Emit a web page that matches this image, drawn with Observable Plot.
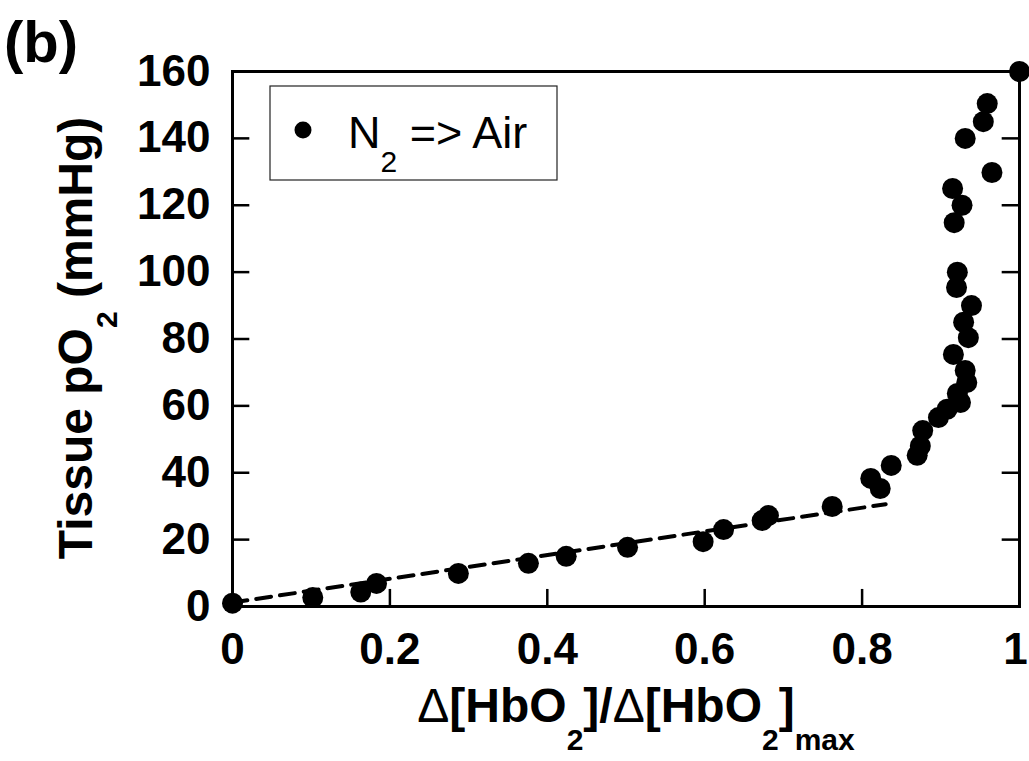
<!DOCTYPE html>
<html>
<head>
<meta charset="utf-8">
<script src="https://cdn.jsdelivr.net/npm/d3@7"></script>
<script src="https://cdn.jsdelivr.net/npm/@observablehq/plot@0.6"></script>
<style>
  html, body { margin: 0; padding: 0; background: white; }
  #chart svg { display: block; }
</style>
</head>
<body>
<div id="chart"></div>
<script>
// Data
const dataX = [0, 0.102, 0.163, 0.183, 0.287, 0.376, 0.424, 0.502, 0.598, 0.624, 0.673, 0.681, 0.762,
  0.811, 0.823, 0.837, 0.870, 0.874, 0.877, 0.897, 0.908, 0.925, 0.921, 0.933, 0.931, 0.916, 0.935,
  0.929, 0.939, 0.920, 0.921, 0.917, 0.927, 0.915, 0.965, 0.931, 0.954, 0.959, 1.0];
const dataY = [1, 2.7, 4.3, 6.9, 9.9, 12.9, 15, 17.7, 19.4, 23, 25.7, 27.2, 29.9,
  38.3, 35.3, 42.2, 45.2, 48, 52.6, 56.5, 59, 61, 63.7, 67, 70.6, 75.4, 80.4,
  85, 90, 95.4, 100, 114.8, 120, 125, 129.8, 140, 145, 150.4, 160];
const fitX = [0, 0.83];
const fitY = [1.2, 30.6];
const xTicks = [0, 0.2, 0.4, 0.6, 0.8];
const xLastTick = [1];
const yTicks = [0, 20, 40, 60, 80, 100, 120, 140, 160];
const xInnerTicks = [0.2, 0.4, 0.6, 0.8];
const yInnerTicks = [20, 40, 60, 80, 100, 120, 140];

const points = dataX.map((x, i) => ({x, y: dataY[i]}));
const fit = fitX.map((x, i) => ({x, y: fitY[i]}));

const FONT = "'Liberation Sans', Arial, Helvetica, sans-serif";
const axisStyle = {tickSize: 0, fontSize: 44, fontWeight: "bold", tickFormat: d => String(d), label: null};

const svg = Plot.plot({
  width: 1029,
  height: 761,
  marginLeft: 232,
  marginRight: 10,
  marginTop: 71,
  marginBottom: 155,
  style: {fontFamily: FONT, background: "white", color: "black", overflow: "visible"},
  x: {domain: [0, 1]},
  y: {domain: [0, 160]},
  marks: [
    Plot.frame({stroke: "black", strokeWidth: 3}),
    Plot.ruleX(xInnerTicks, {x: d => d, y1: 0, y2: 5.1, stroke: "black", strokeWidth: 2.5}),
    Plot.ruleY(yInnerTicks, {y: d => d, x1: 0, x2: 0.022, stroke: "black", strokeWidth: 2.5}),
    Plot.ruleY(yInnerTicks, {y: d => d, x1: 0.978, x2: 1, stroke: "black", strokeWidth: 2.5}),
    Plot.line(fit, {x: "x", y: "y", stroke: "black", strokeWidth: 4, strokeDasharray: "15,9"}),
    Plot.dot(points, {x: "x", y: "y", r: 10.5, fill: "black", stroke: null}),
    Plot.axisX(xTicks, {...axisStyle, tickPadding: 26}),
    Plot.axisX(xLastTick, {...axisStyle, tickPadding: 26, dx: -4}),
    Plot.axisY(yTicks, {...axisStyle, tickPadding: 22})
  ]
});

const s = d3.select(svg);

// Panel label
s.append("text").attr("x", 4).attr("y", 62)
  .attr("text-anchor", "start")
  .attr("font-family", FONT).attr("font-weight", "bold").attr("font-size", 58)
  .text("(b)");

// Y axis title
const yt = s.append("text")
  .attr("transform", "translate(92,338) rotate(-90)")
  .attr("text-anchor", "middle")
  .attr("font-family", FONT).attr("font-weight", "bold").attr("font-size", 48);
yt.append("tspan").text("Tissue pO");
yt.append("tspan").attr("font-size", 30).attr("dy", 25).text("2");
yt.append("tspan").attr("dy", -25).text(" (mmHg)");

// X axis title
const xt = s.append("text")
  .attr("x", 636).attr("y", 722)
  .attr("text-anchor", "middle")
  .attr("font-family", FONT).attr("font-weight", "bold").attr("font-size", 48);
xt.append("tspan").attr("font-weight", "normal").text("\u0394");
xt.append("tspan").text("[HbO");
xt.append("tspan").attr("font-size", 30).attr("dy", 28).text("2");
xt.append("tspan").attr("dy", -28).text("]/");
xt.append("tspan").attr("font-weight", "normal").text("\u0394");
xt.append("tspan").text("[HbO");
xt.append("tspan").attr("font-size", 30).attr("dy", 28).text("2");
xt.append("tspan").attr("dy", -28).text("]");
xt.append("tspan").attr("font-size", 30).attr("dy", 28).text("max");

// Legend
const lg = s.append("g");
lg.append("rect").attr("x", 270).attr("y", 86).attr("width", 287).attr("height", 94)
  .attr("fill", "white").attr("stroke", "#222").attr("stroke-width", 1.2);
lg.append("circle").attr("cx", 303).attr("cy", 130).attr("r", 8.5).attr("fill", "black");
const lt = lg.append("text").attr("x", 348).attr("y", 148)
  .attr("text-anchor", "start")
  .attr("font-family", FONT).attr("font-size", 45);
lt.append("tspan").text("N");
lt.append("tspan").attr("font-size", 30).attr("dy", 24).text("2");
lt.append("tspan").attr("dy", -24).text(" => Air");

document.getElementById("chart").appendChild(svg);
</script>
</body>
</html>
